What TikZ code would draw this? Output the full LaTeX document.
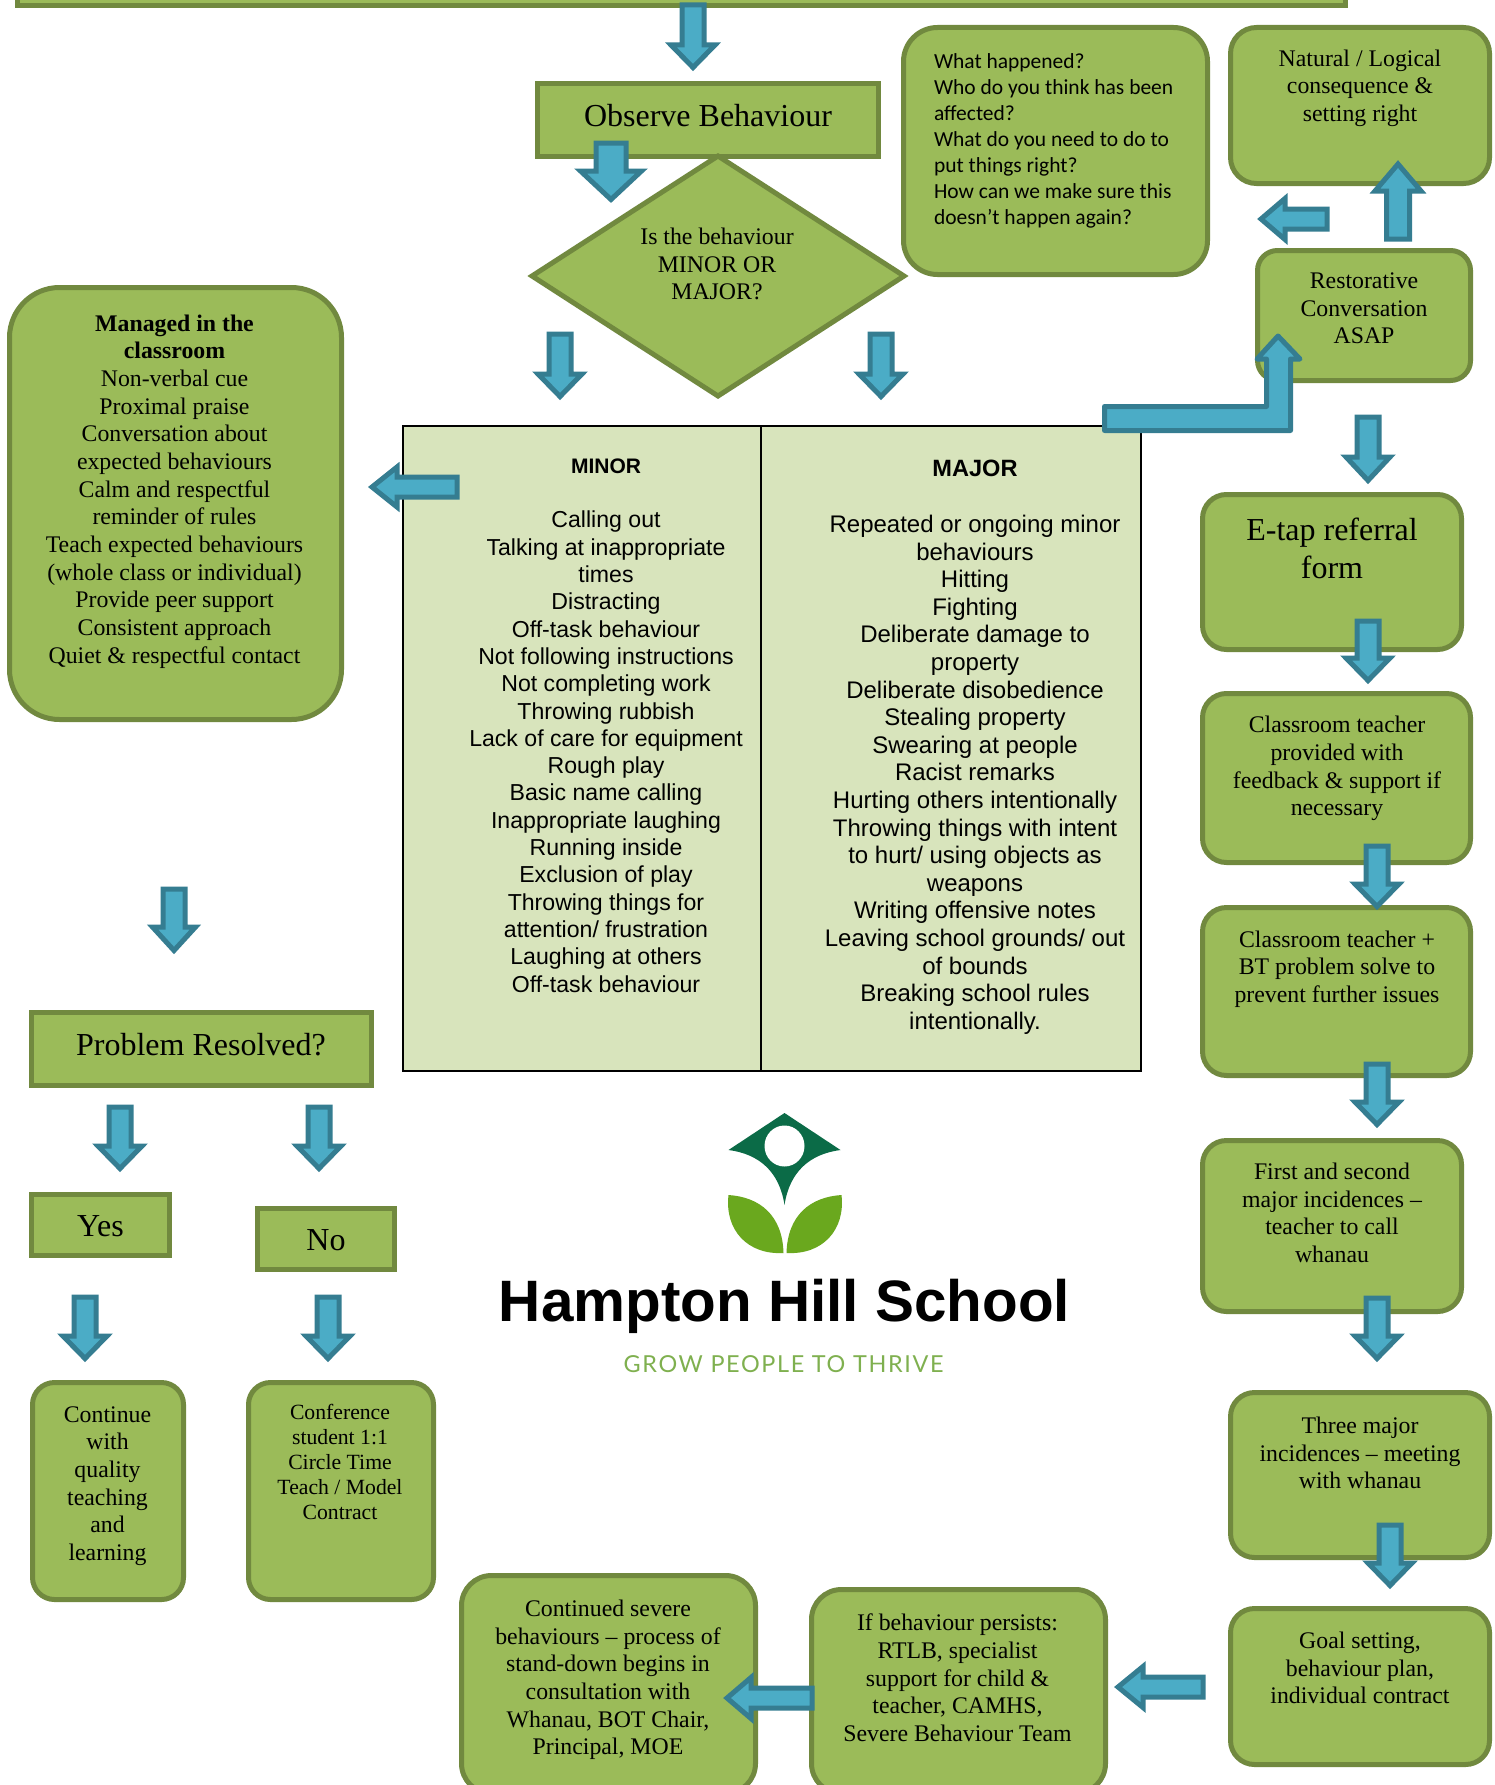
\documentclass[tikz,border=0pt]{standalone}
\usepackage{fontspec}
\setmainfont{Liberation Serif}
\newfontfamily\arsfont{Liberation Sans}
\newfontfamily\calfont{Carlito}
\newfontfamily\tagfont[LetterSpace=7]{Lato}
\usetikzlibrary{shapes.geometric}
\definecolor{gfill}{HTML}{9BBB59}
\definecolor{gline}{HTML}{71893F}
\definecolor{afill}{HTML}{4BACC6}
\definecolor{aline}{HTML}{357D91}
\definecolor{tfill}{HTML}{D8E4BC}
\definecolor{logodark}{HTML}{0B6B47}
\definecolor{logoleaf}{HTML}{6AA81E}
\definecolor{logotag}{HTML}{7FB04F}
\newcommand\fsz[2]{\fontsize{#1}{#2}\selectfont}
\tikzset{
  gbox/.style={draw=gline,fill=gfill,line width=5pt,inner sep=0pt,outer sep=0pt},
  tx/.style={inner sep=0pt,outer sep=0pt,align=center,text=black,font=\fsz{23.8}{27.65}},
  txbig/.style={tx,font=\fsz{32}{38}},
  txsmall/.style={tx,font=\fsz{21.7}{25}},
  blockarrow/.style={draw=aline,fill=afill,line width=5pt,miter limit=10},
}
% name, x0,y0,x1,y1, radius (outer extents in pixels)
\newcommand\bx[6]{\node[gbox,rounded corners=#6pt,minimum width={#4-#2-5},minimum height={#5-#3-5}] (#1) at ({(#2+#4)/2},{(#3+#5)/2}) {};}
% cx, top, head base, tip, shaft width, head width
\newcommand\arrV[6]{\draw[blockarrow] ({#1-#5/2+2.5},#2) -- ({#1+#5/2-2.5},#2) -- ({#1+#5/2-2.5},#3) -- ({#1+#6/2-5.5},#3) -- (#1,{#4+1.5}) -- ({#1-#6/2+5.5},#3) -- ({#1-#5/2+2.5},#3) -- cycle;}
% cy, right, head base, tip, shaft height, head height
\newcommand\arrH[6]{\draw[blockarrow] (#2,{#1-#5/2+2.5}) -- (#2,{#1+#5/2-2.5}) -- (#3,{#1+#5/2-2.5}) -- (#3,{#1+#6/2-5.5}) -- ({#4-1},#1) -- (#3,{#1-#6/2+5.5}) -- (#3,{#1-#5/2+2.5}) -- cycle;}
\begin{document}
\begin{tikzpicture}[x=1pt,y=-1pt]
\useasboundingbox (0,0) rectangle (1494,1785);
\clip (0,0) rectangle (1494,1785);
\fill[white] (0,0) rectangle (1494,1785);

% boxes
\bx{topbar}{15}{-60}{1348}{8}{0}
\bx{observe}{535}{81}{881}{159}{0}
\node[gbox,diamond,aspect=1.55,minimum width=372pt,minimum height=240pt] (decide) at (718,276) {};
\bx{questions}{901}{25}{1210}{277}{34}
\bx{natural}{1228}{25}{1492}{186}{26}
\bx{restorative}{1255}{248}{1473}{383}{20}
\bx{managed}{7}{285}{344}{722}{50}
\bx{etap}{1200}{492}{1464}{652}{24}
\bx{teacherfb}{1200}{691}{1473}{865}{24}
\bx{teacherbt}{1200}{905}{1473}{1078}{24}
\bx{first}{1200}{1138}{1464}{1314}{24}
\bx{three}{1228}{1390}{1492}{1560}{24}
\bx{goal}{1228}{1606}{1492}{1767}{24}
\bx{persists}{809}{1587}{1108}{1796}{30}
\bx{severe}{459}{1573}{758}{1796}{30}
\bx{problem}{29}{1010}{374}{1088}{0}
\bx{yes}{29}{1192}{172}{1258}{0}
\bx{no}{255}{1206}{397}{1272}{0}
\bx{continue}{30}{1380}{186}{1602}{22}
\bx{conference}{246}{1380}{436}{1602}{22}

% table
\node[draw=black,fill=tfill,line width=2pt,minimum width=358pt,minimum height=645pt,inner sep=0pt] (minorcell) at (582,748.5) {};
\node[draw=black,fill=tfill,line width=2pt,minimum width=380pt,minimum height=645pt,inner sep=0pt] (majorcell) at (951,748.5) {};

% box texts
\node[txbig] (observetxt) at (708,116) {Observe Behaviour};
\node[tx,font=\fsz{23.8}{27.6}] (decidetxt) at (717,264) {Is the behaviour\\MINOR OR\\MAJOR?};
\node[inner sep=0pt,outer sep=0pt,anchor=west,align=left,font=\calfont\fsz{21.5}{25.9}] (questionstxt) at (934,141) {What happened?\\Who do you think has been\\affected?\\What do you need to do to\\put things right?\\How can we make sure this\\doesn’t happen again?};
\node[tx] (naturaltxt) at (1360,88) {Natural / Logical\\consequence \&\\setting right};
\node[tx] (restorativetxt) at (1364,308.5) {Restorative\\Conversation\\ASAP};
\node[tx] (managedtxt) at (174.5,491.5) {\textbf{Managed in the}\\\textbf{classroom}\\Non-verbal cue\\Proximal praise\\Conversation about\\expected behaviours\\Calm and respectful\\reminder of rules\\Teach expected behaviours\\(whole class or individual)\\Provide peer support\\Consistent approach\\Quiet \& respectful contact};
\node[txbig] (etaptxt) at (1332,548.5) {E-tap referral\\form};
\node[tx] (teacherfbtxt) at (1337,768.5) {Classroom teacher\\provided with\\feedback \& support if\\necessary};
\node[tx] (teacherbttxt) at (1337,969) {Classroom teacher +\\BT problem solve to\\prevent further issues};
\node[tx] (firsttxt) at (1332,1213) {First and second\\major incidences –\\teacher to call\\whanau};
\node[tx] (threetxt) at (1360,1453) {Three major\\incidences – meeting\\with whanau};
\node[tx] (goaltxt) at (1360,1668) {Goal setting,\\behaviour plan,\\individual contract};
\node[tx] (persiststxt) at (957.5,1678) {If behaviour persists:\\RTLB, specialist\\support for child \&\\teacher, CAMHS,\\Severe Behaviour Team};
\node[tx] (severetxt) at (608,1680) {Continued severe\\behaviours – process of\\stand-down begins in\\consultation with\\Whanau, BOT Chair,\\Principal, MOE};
\node[txbig] (problemtxt) at (201,1045) {Problem Resolved?};
\node[txbig] (yestxt) at (100.5,1226) {Yes};
\node[txbig] (notxt) at (326,1240) {No};
\node[tx] (continuetxt) at (107.5,1486) {Continue\\with\\quality\\teaching\\and\\learning};
\node[txsmall] (conferencetxt) at (340,1462) {Conference\\student 1:1\\Circle Time\\Teach / Model\\Contract};

% table texts
\node[tx,font=\arsfont\fsz{23.1}{27.3}] (minortxt) at (606,725.5) {{\fontsize{21}{27.3}\selectfont\bfseries MINOR}\\[27.3pt]Calling out\\Talking at inappropriate\\times\\Distracting\\Off-task behaviour\\Not following instructions\\Not completing work\\Throwing rubbish\\Lack of care for equipment\\Rough play\\Basic name calling\\Inappropriate laughing\\Running inside\\Exclusion of play\\Throwing things for\\attention/ frustration\\Laughing at others\\Off-task behaviour};
\node[tx,font=\arsfont\fsz{24}{27.6}] (majortxt) at (975,747) {{\fontsize{23.6}{27.6}\selectfont\bfseries MAJOR}\\[28.8pt]Repeated or ongoing minor\\behaviours\\Hitting\\Fighting\\Deliberate damage to\\property\\Deliberate disobedience\\Stealing property\\Swearing at people\\Racist remarks\\Hurting others intentionally\\Throwing things with intent\\to hurt/ using objects as\\weapons\\Writing offensive notes\\Leaving school grounds/ out\\of bounds\\Breaking school rules\\intentionally.};

% logo
\begin{scope}[xshift=-2.5pt]
\fill[logodark] (787,1113) -- (843,1150) .. controls (812,1154) and (792,1172) .. (787,1205) .. controls (782,1172) and (762,1154) .. (731,1150) -- cycle;
\node[draw=none,fill=white,ellipse,minimum width=40pt,minimum height=41pt,inner sep=0pt] (logohead) at (787,1146) {};
\fill[logoleaf] (731,1195) .. controls (762,1197) and (785,1215) .. (786,1253) .. controls (750,1255) and (727,1230) .. (731,1195) -- cycle;
\fill[logoleaf] (844,1195) .. controls (813,1197) and (790,1215) .. (789,1253) .. controls (825,1255) and (848,1230) .. (844,1195) -- cycle;
\node[anchor=base,inner sep=0pt,font=\arsfont\bfseries\fsz{58.4}{60}] (logoname) at (787,1321) {Hampton Hill School};
\end{scope}
\node[anchor=base,inner sep=0pt,text=logotag,font=\tagfont\fsz{23.4}{26}] (logotagline) at (783.5,1372) {GROW PEOPLE TO THRIVE};

% block arrows
\arrV{693}{5}{45}{66}{27}{55}
\arrV{611}{143}{171}{198}{35}{72}
\arrV{560}{334}{374}{395}{27}{55}
\arrV{881}{334}{374}{395}{27}{55}
\arrV{174}{889}{927}{949}{27}{54}
\arrV{120}{1107}{1146}{1167}{27}{55}
\arrV{319}{1107}{1146}{1167}{27}{55}
\arrV{85}{1297}{1336}{1357}{27}{55}
\arrV{328}{1297}{1336}{1357}{27}{55}
\arrV{1368}{417}{457}{479}{27}{55}
\arrV{1368}{621}{658}{679}{27}{55}
\arrV{1377}{846}{884}{905}{27}{55}
\arrV{1377}{1064}{1102}{1123}{27}{55}
\arrV{1377}{1298}{1336}{1357}{27}{55}
\arrV{1390}{1525}{1563}{1584}{27}{55}
\draw[blockarrow] (1386.5,239) -- (1409.5,239) -- (1409.5,191) -- (1421,191) -- (1398,164) -- (1375,191) -- (1386.5,191) -- cycle;
\arrH{487}{457}{397}{373}{25}{51}
\arrH{219}{1327}{1285}{1262}{25}{52}
\arrH{1687}{1203}{1143}{1119}{25}{52}
\arrH{1698}{812}{751}{728}{25}{52}
% bent arrow from the table to the restorative conversation
\draw[blockarrow,line join=round] (1104.5,406.5) -- (1266.5,406.5) -- (1266.5,359) -- (1257,359) -- (1278,336) -- (1300,359) -- (1290.5,359) -- (1290.5,430.5) -- (1104.5,430.5) -- cycle;
\end{tikzpicture}
\end{document}
